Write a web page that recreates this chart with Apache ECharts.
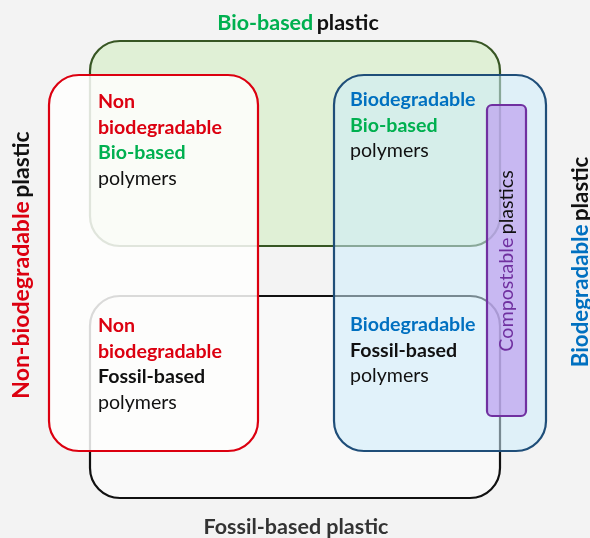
<!DOCTYPE html>
<html>
<head>
<meta charset="utf-8">
<script src="https://cdn.jsdelivr.net/npm/echarts@6/dist/echarts.min.js"></script>
<style>
  html, body { margin: 0; padding: 0; background: #f3f3f3; }
  #main { width: 590px; height: 538px; }
</style>
</head>
<body>
<div id="main"></div>
<script>
// boxes of the diagram, in diagram units (x0, y0, x1, y1), drawn bottom to top
var boxNames = ['Bio-based', 'Fossil-based', 'Non-biodegradable', 'Biodegradable', 'Compostable'];
var boxX0 = [90, 90, 49, 334, 487];
var boxY0 = [41, 296, 75, 75, 105];
var boxX1 = [500, 500, 258, 546, 526];
var boxY1 = [246, 498, 451, 451, 416];

// text blocks: anchor point and lines
var textX = [98, 350, 98, 350];
var textY = [89, 87, 313, 312];
var textLines = [
  ['{red|Non}', '{red|biodegradable}', '{green|Bio-based}', '{plain|polymers}'],
  ['{blue|Biodegradable}', '{green|Bio-based}', '{plain|polymers}'],
  ['{red|Non}', '{red|biodegradable}', '{black|Fossil-based}', '{plain|polymers}'],
  ['{blue|Biodegradable}', '{black|Fossil-based}', '{plain|polymers}']
];

// titles round the diagram
var titleX = [298, 296, 22, 581, 507];
var titleY = [23, 527, 265, 262, 261];
var titleRot = [0, 0, 90, 90, 90];
var titleSize = [21.5, 21.5, 23, 22.3, 19.7];
var titleText = [
  '{green|Bio-based} {black|plastic}',
  '{gray|Fossil-based plastic}',
  '{red|Non-biodegradable} {black|plastic}',
  '{blue|Biodegradable} {black|plastic}',
  '{purple|Compostable} {plainB|plastics}'
];

var boxStyle = [
  { fill: 'rgba(220,238,208,0.85)', stroke: '#375623', r: 30 },
  { fill: 'rgba(250,250,250,0.9)', stroke: '#111111', r: 30 },
  { fill: 'rgba(254,254,253,0.85)', stroke: '#dc0010', r: 30 },
  { fill: 'rgba(205,236,252,0.55)', stroke: '#1f4e79', r: 30 },
  { fill: 'rgba(190,160,240,0.7)', stroke: '#7030a0', r: 5 }
];

var FONT = 'Lato, "Open Sans", sans-serif';
var colors = { red: '#dc0010', green: '#00b050', blue: '#0070c0', black: '#111111', plain: '#111111',
  gray: '#333333', purple: '#7030a0', plainB: '#111111' };
var normalKeys = { plain: 1, purple: 1, plainB: 1 };

function makeRich(size, lineHeight) {
  var r = {};
  Object.keys(colors).forEach(function (k) {
    r[k] = {
      fill: colors[k],
      fontWeight: normalKeys[k] ? 'normal' : 'bold',
      fontSize: size,
      fontFamily: FONT,
      lineHeight: lineHeight
    };
  });
  return r;
}
var textRich = makeRich(19.6, 25.5);

var boxData = boxNames.map(function (n, i) {
  return { name: n, value: [boxX0[i], boxY0[i], boxX1[i], boxY1[i], i] };
});
var textData = textX.map(function (x, i) { return [x, textY[i], i]; });
var titleData = titleX.map(function (x, i) { return [x, titleY[i], i]; });

var myChart = echarts.init(document.getElementById('main'), null, { renderer: 'canvas' });
var option = {
  backgroundColor: '#f3f3f3',
  animation: false,
  grid: { left: 0, right: 0, top: 0, bottom: 0 },
  xAxis: { type: 'value', min: 0, max: 590, show: false },
  yAxis: { type: 'value', min: 0, max: 538, inverse: true, show: false },
  series: [
    {
      type: 'custom',
      name: 'boxes',
      data: boxData,
      renderItem: function (params, api) {
        var i = api.value(4);
        var p0 = api.coord([api.value(0), api.value(1)]);
        var p1 = api.coord([api.value(2), api.value(3)]);
        var s = boxStyle[i];
        return {
          type: 'rect',
          z2: i,
          shape: { x: p0[0], y: p0[1], width: p1[0] - p0[0], height: p1[1] - p0[1], r: s.r },
          style: { fill: s.fill, stroke: s.stroke, lineWidth: 2.2 }
        };
      }
    },
    {
      type: 'custom',
      name: 'texts',
      data: textData,
      z: 3,
      renderItem: function (params, api) {
        var i = api.value(2);
        var p = api.coord([api.value(0), api.value(1)]);
        return {
          type: 'text',
          x: p[0], y: p[1],
          style: {
            text: textLines[i].join('\n'),
            rich: textRich,
            align: 'left',
            verticalAlign: 'top'
          }
        };
      }
    },
    {
      type: 'custom',
      name: 'titles',
      data: titleData,
      z: 4,
      renderItem: function (params, api) {
        var i = api.value(2);
        var p = api.coord([api.value(0), api.value(1)]);
        return {
          type: 'text',
          x: p[0], y: p[1],
          rotation: titleRot[i] * Math.PI / 180,
          style: {
            text: titleText[i],
            rich: makeRich(titleSize[i], titleSize[i] * 1.2),
            align: 'center',
            verticalAlign: 'middle'
          }
        };
      }
    }
  ]
};
myChart.setOption(option);
</script>
</body>
</html>
